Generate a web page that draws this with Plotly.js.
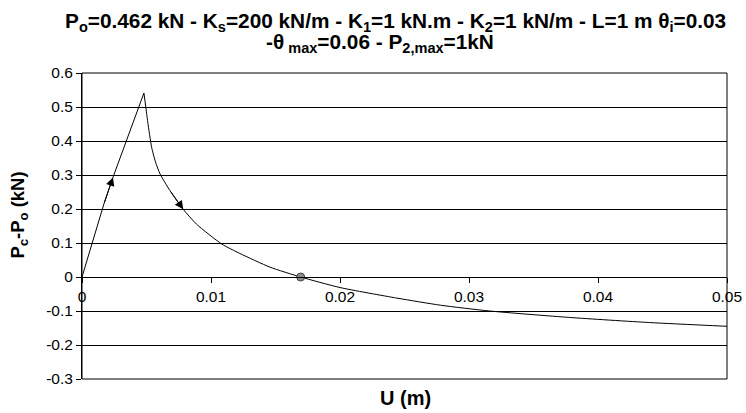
<!DOCTYPE html>
<html>
<head>
<meta charset="utf-8">
<script src="https://cdn.plot.ly/plotly-3.0.1.min.js"></script>
<style>html,body{margin:0;padding:0;background:#fff;}#chart{width:746px;height:413px;}</style>
</head>
<body>
<div id="chart"></div>
<script>
// Loading branch (U in m, Pc-Po in kN)
const uLoad = [0, 0.0005, 0.001, 0.0017, 0.0024, 0.0033, 0.0041, 0.0048];
const pLoad = [0, 0.064, 0.126, 0.215, 0.293, 0.387, 0.470, 0.541];
// Post-peak branch
const uUnload = [0.0048, 0.00502, 0.0051, 0.0054, 0.0057, 0.00605, 0.00682, 0.00785, 0.00889, 0.01083, 0.01225, 0.01457, 0.01695, 0.0200, 0.0244, 0.0278, 0.0316, 0.0378, 0.0440, 0.0500];
const pUnload = [0.541, 0.478, 0.455, 0.381, 0.338, 0.303, 0.254, 0.199, 0.155, 0.097, 0.069, 0.029, 0, -0.031, -0.062, -0.083, -0.100, -0.119, -0.134, -0.145];
// Zero-crossing point
const uZero = [0.01695];
const pZero = [0];
// Ticks
const xTickVals = [0, 0.01, 0.02, 0.03, 0.04, 0.05];
const xTickText = ["0", "0.01", "0.02", "0.03", "0.04", "0.05"];
const yTickVals = [-0.3, -0.2, -0.1, 0, 0.1, 0.2, 0.3, 0.4, 0.5, 0.6];
const yTickText = ["-0.3", "-0.2", "-0.1", "0", "0.1", "0.2", "0.3", "0.4", "0.5", "0.6"];

const titleLine1 = "<b>P<sub>o</sub>=0.462 kN - K<sub>s</sub>=200 kN/m - K<sub>1</sub>=1 kN.m - K<sub>2</sub>=1 kN/m - L=1 m θ<sub>i</sub>=0.03</b>";
const titleLine2 = "<b>-θ<sub> max</sub>=0.06 - P<sub>2,max</sub>=1kN</b>";

const FONT = "Liberation Sans, Arial, sans-serif";

const traces = [
  {x: uLoad, y: pLoad, mode: "lines", line: {color: "#000", width: 1}, hoverinfo: "skip"},
  {x: uUnload, y: pUnload, mode: "lines", line: {color: "#000", width: 1, shape: "spline", smoothing: 0.6}, hoverinfo: "skip"},
  {x: uZero, y: pZero, mode: "markers", marker: {color: "#8c8c8c", size: 8, line: {color: "#404040", width: 1}}, hoverinfo: "skip"}
];

function arrow(xs, ys, i, j) {
  return {x: xs[j], y: ys[j], ax: xs[i], ay: ys[i], xref: "x", yref: "y", axref: "x", ayref: "y",
          text: "", showarrow: true, arrowhead: 2, arrowsize: 1.7, arrowwidth: 1, arrowcolor: "#000", standoff: 0};
}

const layout = {
  width: 746, height: 413,
  margin: {l: 82, r: 19, t: 73, b: 34, pad: 0},
  paper_bgcolor: "#fff", plot_bgcolor: "#fff",
  showlegend: false,
  font: {family: FONT, color: "#000"},
  xaxis: {range: [0, 0.05], anchor: "free", position: 1/3, tickmode: "array", tickvals: xTickVals, ticktext: xTickText,
          ticks: "outside", ticklen: 5, tickcolor: "#000", showline: true, linecolor: "#000", linewidth: 1,
          showgrid: false, zeroline: false, tickfont: {family: FONT, size: 15.5, color: "#000"}},
  yaxis: {range: [-0.3, 0.6], tickmode: "array", tickvals: yTickVals, ticktext: yTickText,
          ticks: "outside", ticklen: 5, tickcolor: "#000", showline: true, linecolor: "#000", linewidth: 1,
          showgrid: true, gridcolor: "#000", gridwidth: 1, zeroline: false,
          tickfont: {family: FONT, size: 15.5, color: "#000"}},
  shapes: [{type: "rect", xref: "paper", yref: "paper", x0: 0, x1: 1, y0: 0, y1: 1, line: {color: "#000", width: 1}}],
  annotations: [
    arrow(uLoad, pLoad, 3, 4),
    arrow(uUnload, pUnload, 6, 7),
    {text: titleLine1, xref: "paper", yref: "paper", x: (395 - 82) / 645, y: (379 - 22) / 306, xanchor: "center", yanchor: "middle",
     showarrow: false, font: {family: FONT, size: 20.8, color: "#000"}},
    {text: titleLine2, xref: "paper", yref: "paper", x: (380 - 82) / 645, y: (379 - 43) / 306, xanchor: "center", yanchor: "middle",
     showarrow: false, font: {family: FONT, size: 20.8, color: "#000"}},
    {text: "<b>U (m)</b>", xref: "paper", yref: "paper", x: 0.502, y: -0.062, xanchor: "center", yanchor: "middle",
     showarrow: false, font: {family: FONT, size: 20, color: "#000"}},
    {text: "<b>P<sub>c</sub>-P<sub>o</sub> (kN)</b>", xref: "paper", yref: "paper", x: -0.098, y: 0.537, xanchor: "center", yanchor: "middle",
     textangle: -90, showarrow: false, font: {family: FONT, size: 18.5, color: "#000"}}
  ]
};

Plotly.newPlot("chart", traces, layout, {staticPlot: true, displayModeBar: false});
</script>
</body>
</html>
